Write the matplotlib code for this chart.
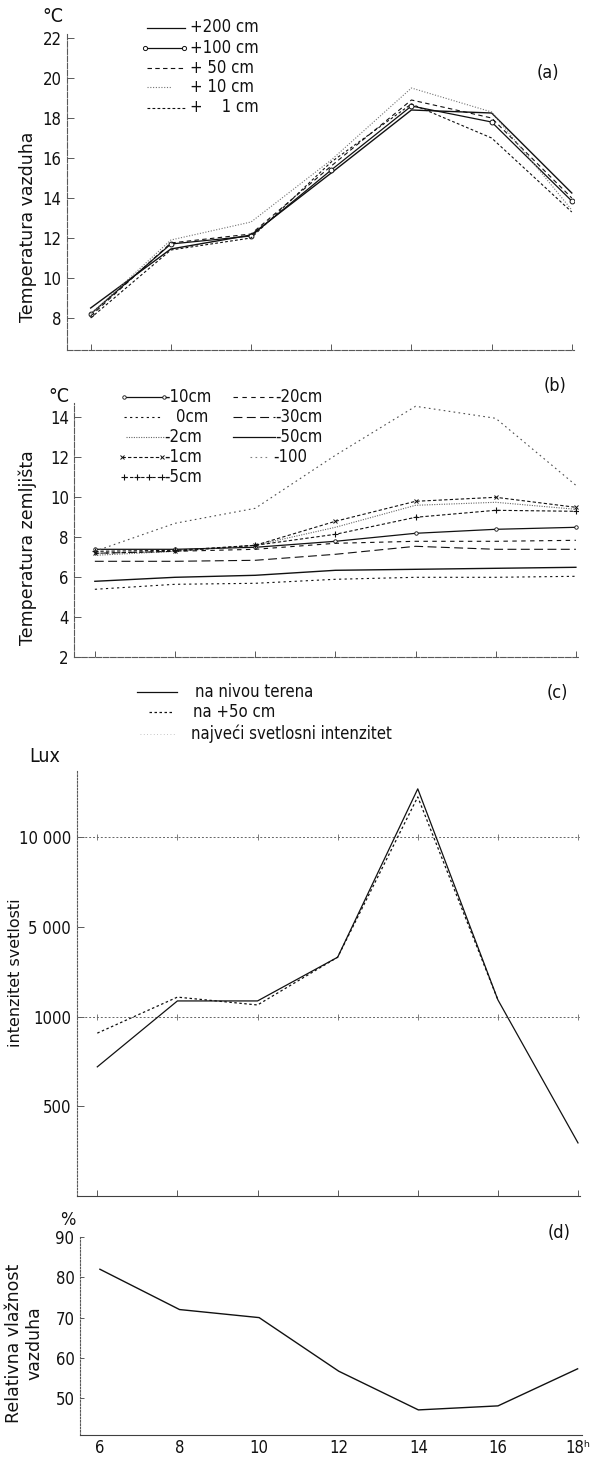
import numpy as np
import matplotlib
matplotlib.use("Agg")
import matplotlib.pyplot as plt
from matplotlib.lines import Line2D

W, H = 596, 1458

hours = [6, 8, 10, 12, 14, 16, 18]
hour_labels = ["6", "8", "10", "12", "14", "16", "18ʰ"]

# (a) temperatura vazduha, °C
air_200 = [8.5, 11.45, 12.15, 15.25, 18.4, 18.25, 14.25]
air_100 = [8.2, 11.7, 12.1, 15.4, 18.6, 17.8, 13.85]
air_50 = [8.1, 11.75, 12.2, 15.6, 18.9, 18.0, 14.0]
air_10 = [8.2, 11.9, 12.8, 15.9, 19.5, 18.3, 13.4]
air_1 = [8.0, 11.4, 12.0, 15.8, 18.7, 17.0, 13.3]

# (b) temperatura zemljista, °C
soil_m10 = [7.4, 7.4, 7.5, 7.8, 8.2, 8.4, 8.5]
soil_0 = [5.4, 5.65, 5.7, 5.9, 6.0, 6.0, 6.05]
soil_m2 = [7.1, 7.3, 7.6, 8.5, 9.6, 9.75, 9.4]
soil_m1 = [7.2, 7.3, 7.6, 8.8, 9.8, 10.0, 9.5]
soil_m5 = [7.3, 7.35, 7.6, 8.15, 9.0, 9.35, 9.3]
soil_m20 = [7.2, 7.3, 7.4, 7.7, 7.8, 7.8, 7.85]
soil_m30 = [6.8, 6.8, 6.85, 7.15, 7.55, 7.4, 7.4]
soil_m50 = [5.8, 6.0, 6.1, 6.35, 6.4, 6.45, 6.5]
soil_m100 = [7.3, 8.7, 9.45, 12.1, 14.55, 13.95, 10.6]

# (c) intenzitet svetlosti, lux
lux_ground = [720, 1700, 1700, 3650, 12700, 1750, 296]
lux_50 = [908, 1870, 1520, 3650, 12250, 1750, np.nan]

# (d) relativna vlaznost vazduha, %
humidity = [82, 72, 70, 56.7, 47.1, 48.1, 57.3]

# scale of panel (c): equal steps between the labelled values
lux_knots = [0, 500, 1000, 5000, 10000, 15000]
lux_pos = [0, 1, 2, 3, 4, 5]
lux_ticks = [500, 1000, 5000, 10000]
lux_tick_labels = ["500", "1000", "5 000", "10 000"]

NARROW = ["Liberation Sans Narrow", "DejaVu Sans"]
INK = "#111111"
AXC = "0.35"


def box(l, t, r, b):
    return [l / W, 1 - b / H, (r - l) / W, (b - t) / H]


def ftext(fig, x, y, s, **kw):
    kw.setdefault("family", NARROW)
    kw.setdefault("color", INK)
    kw.setdefault("fontstretch", "condensed")
    fig.text(x / W, 1 - y / H, s, **kw)


def legend_entry(fig, x0, x1, y, label, tx, **style):
    style.setdefault("color", INK)
    style.setdefault("lw", 0.9)
    xs = np.linspace(x0, x1, style.pop("n", 2)) / W
    fig.add_artist(Line2D(xs, [1 - y / H] * len(xs),
                          transform=fig.transFigure, **style))
    ftext(fig, tx, y, label, va="center", fontsize=12)


def style_axes(ax, spine_ls=(0, (5, 1.5))):
    for s in ("top", "right"):
        ax.spines[s].set_visible(False)
    for s in ("left", "bottom"):
        ax.spines[s].set_color(AXC)
        ax.spines[s].set_linewidth(0.8)
        ax.spines[s].set_linestyle(spine_ls)
    ax.patch.set_alpha(0)
    ax.tick_params(axis="y", direction="in", length=5, width=0.7,
                   color=AXC, labelsize=12, labelcolor=INK, pad=4)
    ax.tick_params(axis="x", direction="in", length=4, width=0.7,
                   color=AXC, labelbottom=False)
    ax.set_xticks(hours)
    for lab in ax.get_yticklabels():
        lab.set_family(NARROW)
        lab.set_fontstretch("condensed")


def place_ylabel(ax, text, x_px, y_px, l, r, t, b, size=12.5):
    ax.set_ylabel(text, fontsize=size, color=INK, va="center",
                  linespacing=1.2)
    ax.yaxis.set_label_coords((x_px - l) / (r - l), (b - y_px) / (b - t))


fig = plt.figure(figsize=(W / 100, H / 100), dpi=100)

# ---------------- (a)
pa = (67, 573.8, 34, 350)
ax = fig.add_axes(box(pa[0], pa[2], pa[1], pa[3]))
ax.set_xlim(5.41, 18.05)
ax.set_ylim(6.4, 22.2)
ax.plot(hours, air_200, color=INK, lw=1.0)
ax.plot(hours, air_100, color=INK, lw=0.9, marker="o", ms=3.5, mfc="white", mew=0.7)
ax.plot(hours, air_50, color=INK, lw=0.8, ls=(0, (4, 3)))
ax.plot(hours, air_10, color="0.45", lw=0.8, ls=(0, (1, 1.5)))
ax.plot(hours, air_1, color=INK, lw=0.8, ls=(0, (2.5, 2)))
ax.set_yticks([8, 10, 12, 14, 16, 18, 20, 22])
style_axes(ax)
place_ylabel(ax, "Temperatura vazduha", 28, 227, *pa)

ftext(fig, 53, 17, "°C", ha="center", va="center", fontsize=14)
ftext(fig, 548, 73, "(a)", ha="center", va="center", fontsize=13)
legend_entry(fig, 147, 185, 27.5, "+200 cm", 190)
legend_entry(fig, 145, 184, 48, "+100 cm", 190, marker="o", ms=3, mfc="white", mew=0.7)
legend_entry(fig, 147, 185, 68, "+ 50 cm", 190, ls=(0, (4, 3)), lw=0.8)
legend_entry(fig, 147, 172, 87, "+ 10 cm", 190, ls=(0, (1, 1.5)), color="0.45", lw=0.8)
legend_entry(fig, 147, 185, 107.5, "+    1 cm", 190, ls=(0, (2.5, 2)), lw=0.8)

# ---------------- (b)
pb = (74.4, 577.9, 403.3, 657.3)
ax = fig.add_axes(box(pb[0], pb[2], pb[1], pb[3]))
ax.set_xlim(5.49, 18.05)
ax.set_ylim(2, 14.7)
ax.plot(hours, soil_m10, color=INK, lw=0.9, marker="o", ms=2.5, mfc="white", mew=0.6)
ax.plot(hours, soil_0, color=INK, lw=0.8, ls=(0, (2, 3)))
ax.plot(hours, soil_m2, color="0.4", lw=0.8, ls=(0, (1, 1.2)))
ax.plot(hours, soil_m1, color=INK, lw=0.8, ls=(0, (3, 2)), marker="x", ms=3.5, mew=0.7)
ax.plot(hours, soil_m5, color=INK, lw=0.8, ls=(0, (3, 2)), marker="+", ms=5, mew=0.8)
ax.plot(hours, soil_m20, color=INK, lw=0.8, ls=(0, (4, 4)))
ax.plot(hours, soil_m30, color=INK, lw=0.8, ls=(0, (8, 4)))
ax.plot(hours, soil_m50, color=INK, lw=1.0)
ax.plot(hours, soil_m100, color="0.3", lw=0.8, ls=(0, (1.5, 3)))
ax.set_yticks([2, 4, 6, 8, 10, 12, 14])
style_axes(ax)
place_ylabel(ax, "Temperatura zemljišta", 28, 548, *pb)

ftext(fig, 59, 397, "°C", ha="center", va="center", fontsize=14)
ftext(fig, 555, 386, "(b)", ha="center", va="center", fontsize=13)
legend_entry(fig, 124, 164, 397, "-10cm", 164, marker="o", ms=2.5, mfc="white", mew=0.6)
legend_entry(fig, 124, 162, 417, "0cm", 176, ls=(0, (2, 3)), lw=0.8)
legend_entry(fig, 126, 164, 437, "-2cm", 164, ls=(0, (1, 1.2)), color="0.4", lw=0.8)
legend_entry(fig, 122, 162, 457, "-1cm", 164, ls=(0, (3, 2)), lw=0.8,
             marker="x", ms=3, mew=0.7)
legend_entry(fig, 124, 162, 477, "-5cm", 164, ls=(0, (3, 2)), lw=0.8,
             marker="+", ms=4.5, mew=0.8, n=4)
legend_entry(fig, 233, 275, 397, "-20cm", 275, ls=(0, (4, 4)), lw=0.8)
legend_entry(fig, 233, 275, 417, "-30cm", 275, ls=(0, (8, 4)), lw=0.8)
legend_entry(fig, 233, 275, 437, "-50cm", 275)
legend_entry(fig, 250, 267, 457, "-100", 273, ls=(0, (1.5, 3)), color="0.5", lw=0.8)

# ---------------- (c)
pc = (76.7, 580, 770, 1196)
ax = fig.add_axes(box(pc[0], pc[2], pc[1], pc[3]))
ax.set_yscale("function",
              functions=(lambda v: np.interp(v, lux_knots, lux_pos),
                         lambda p: np.interp(p, lux_pos, lux_knots)))
ax.set_xlim(5.486, 18.05)
ax.set_ylim(0, 13750)
for level in (1000, 10000):
    ax.axhline(level, color="0.4", lw=0.7, ls=(0, (2, 2)))
    ax.plot(hours, [level] * len(hours), ls="none", marker="|", ms=5,
            mew=0.6, color="0.4")
ax.plot(hours, lux_ground, color=INK, lw=0.9)
ax.plot(hours, lux_50, color=INK, lw=0.9, ls=(0, (2, 2)))
ax.set_yticks(lux_ticks)
ax.set_yticklabels(lux_tick_labels)
ax.minorticks_off()
style_axes(ax, spine_ls=(0, (1.5, 1.5)))
ax.spines["bottom"].set_linestyle("-")
ax.spines["bottom"].set_color("0.25")
place_ylabel(ax, "intenzitet svetlosti", 15, 973, *pc, size=11.5)

ftext(fig, 557, 693, "(c)", ha="center", va="center", fontsize=13)
legend_entry(fig, 137, 177, 692, "na nivou terena", 195)
legend_entry(fig, 149, 174, 712, "na +5o cm", 193, ls=(0, (2, 2)))
legend_entry(fig, 140, 175, 734, "najveći svetlosni intenzitet", 191,
             ls=(0, (1, 3)), color="0.7", lw=0.6)
ftext(fig, 29, 757, "Lux", ha="left", va="center", fontsize=14)

# ---------------- (d)
pd_ = (80, 581.6, 1237, 1435.3)
ax = fig.add_axes(box(pd_[0], pd_[2], pd_[1], pd_[3]))
ax.set_xlim(5.5, 18.1)
ax.set_ylim(40.8, 90)
ax.plot(hours, humidity, color=INK, lw=1.0)
ax.set_yticks([50, 60, 70, 80, 90])
style_axes(ax, spine_ls=(0, (1.5, 1.5)))
ax.spines["bottom"].set_linestyle("-")
ax.spines["bottom"].set_color("0.25")
ax.tick_params(axis="y", length=3)
ax.tick_params(axis="x", length=0, labelbottom=True, labelsize=12,
               labelcolor=INK, pad=3)
ax.set_xticklabels(hour_labels)
for lab in ax.get_xticklabels():
    lab.set_family(NARROW)
    lab.set_fontstretch("condensed")
place_ylabel(ax, "Relativna vlažnost\nvazduha", 24, 1343, *pd_, size=12.5)

ftext(fig, 68, 1220, "%", ha="center", va="center", fontsize=13)
ftext(fig, 559, 1233, "(d)", ha="center", va="center", fontsize=13)

fig.savefig("out.png", dpi=100, facecolor="white")
